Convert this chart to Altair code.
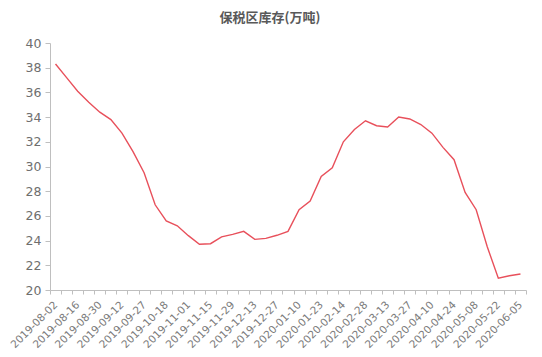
import altair as alt
import pandas as pd

dates = [
    "2019-08-02", "2019-08-09", "2019-08-16", "2019-08-23", "2019-08-30", "2019-09-06",
    "2019-09-12", "2019-09-20", "2019-09-27", "2019-10-11", "2019-10-18", "2019-10-25",
    "2019-11-01", "2019-11-08", "2019-11-15", "2019-11-22", "2019-11-29", "2019-12-06",
    "2019-12-13", "2019-12-20", "2019-12-27", "2020-01-03", "2020-01-10", "2020-01-17",
    "2020-01-23", "2020-02-07", "2020-02-14", "2020-02-21", "2020-02-28", "2020-03-06",
    "2020-03-13", "2020-03-20", "2020-03-27", "2020-04-03", "2020-04-10", "2020-04-17",
    "2020-04-24", "2020-04-30", "2020-05-08", "2020-05-15", "2020-05-22", "2020-05-29",
    "2020-06-05",
]
values = [
    38.3, 37.2, 36.1, 35.2, 34.4, 33.8,
    32.7, 31.2, 29.5, 26.9, 25.6, 25.2,
    24.4, 23.7, 23.75, 24.3, 24.5, 24.75,
    24.1, 24.18, 24.43, 24.75, 26.5, 27.2,
    29.2, 29.9, 32.0, 33.0, 33.7, 33.3,
    33.2, 34.0, 33.85, 33.4, 32.7, 31.55,
    30.55, 27.9, 26.5, 23.5, 20.95, 21.15,
    21.3,
]
shown_labels = dates[::2]

df = pd.DataFrame({"date": dates, "value": values})

label_array = "[" + ",".join("'" + d + "'" for d in shown_labels) + "]"

chart = alt.Chart(df).mark_line(color="#e8505b", strokeWidth=1.4).encode(
    x=alt.X(
        "date:N",
        sort=None,
        bandPosition=0.5,
        scale=alt.Scale(type="band", paddingInner=0, paddingOuter=0),
        axis=alt.Axis(
            title=None,
            labelAngle=-45,
            labelAlign="right",
            labelBaseline="middle",
            labelExpr="indexof(" + label_array + ", datum.value) >= 0 ? datum.value : ''",
            labelFont="DejaVu Sans",
            labelFontSize=10.5,
            labelColor="#7a7a7a",
            labelPadding=9,
            labelOverlap=False,
            tickBand="extent",
            tickSize=4,
            tickColor="#bfbfbf",
            domainColor="#bfbfbf",
            grid=False,
        ),
    ),
    y=alt.Y(
        "value:Q",
        scale=alt.Scale(domain=[20, 40], nice=False, zero=False),
        axis=alt.Axis(
            title=None,
            values=list(range(20, 41, 2)),
            labelFont="DejaVu Sans",
            labelFontSize=12.5,
            labelColor="#6e6e6e",
            labelPadding=4,
            tickSize=5,
            tickColor="#bfbfbf",
            domainColor="#bfbfbf",
            grid=False,
        ),
    ),
).properties(
    width=476,
    height=247,
    title=alt.TitleParams(
        "保税区库存(万吨)",
        font="Noto Sans CJK SC",
        fontSize=13,
        fontWeight="bold",
        color="#595959",
        anchor="middle",
        dx=-18,
        offset=12,
    ),
    autosize=alt.AutoSizeParams(type="none"),
    padding={"left": 50, "top": 43, "right": 16, "bottom": 67},
).configure_view(stroke=None)

chart.save("out.html", embed_options={"renderer": "svg", "actions": False})
